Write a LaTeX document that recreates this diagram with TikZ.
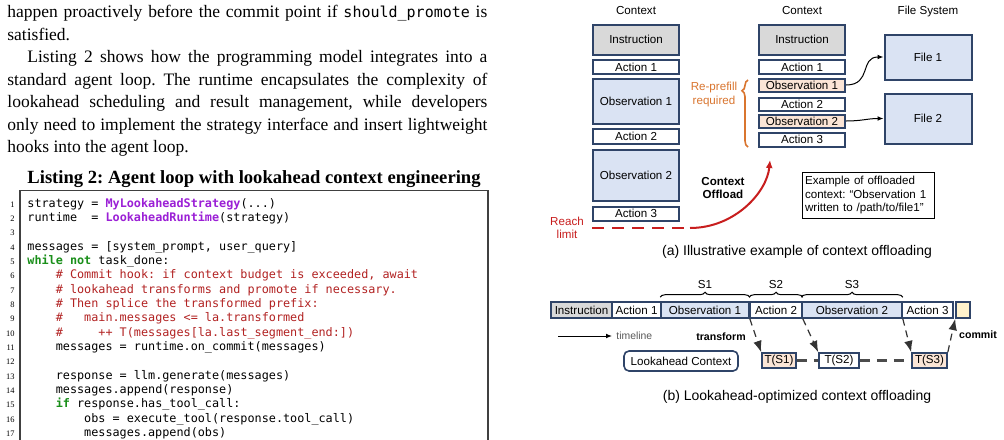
\documentclass[tikz,border=0pt]{standalone}
\usepackage{fontspec}
\setmainfont{Liberation Serif}
\setsansfont{Liberation Sans}
\setmonofont{DejaVu Sans Mono}
\usepackage{xcolor}
\usepackage{tikz}
\usetikzlibrary{arrows.meta,positioning,calc,decorations.pathreplacing}
\frenchspacing

\definecolor{navy}{HTML}{2F4468}
\definecolor{grayfill}{HTML}{D9D9D9}
\definecolor{bluefill}{HTML}{DAE3F3}
\definecolor{orangefill}{HTML}{FBE5D6}
\definecolor{yellowfill}{HTML}{FFF2CC}
\definecolor{orangec}{HTML}{D9752F}
\definecolor{redc}{HTML}{C81E1E}
\definecolor{kwpurple}{HTML}{9B1FD6}
\definecolor{kwgreen}{HTML}{1A8F1A}
\definecolor{cmtred}{HTML}{B22222}

\begin{document}
\begin{tikzpicture}[x=0.5pt,y=-0.5pt,>=Latex,
  body/.style={inner sep=0pt,anchor=base west,font=\fontsize{8.75}{11}\selectfont},
  code/.style={inner sep=0pt,anchor=base west,font=\ttfamily\fontsize{5.9}{7}\selectfont},
  lnum/.style={inner sep=0pt,anchor=base east,font=\fontsize{4.2}{5}\selectfont},
  lbl/.style={inner sep=0pt,font=\sffamily\fontsize{5.8}{7}\selectfont},
  bld/.style={inner sep=0pt,font=\sffamily\bfseries\fontsize{5.3}{6.5}\selectfont},
  blk/.style={draw=navy,line width=1pt,inner sep=0pt,minimum width=43pt,
    font=\sffamily\fontsize{5.8}{7}\selectfont},
  bar/.style={blk,line width=0.8pt,minimum width=0pt,minimum height=8pt},
  tbox/.style={blk,line width=0.8pt,minimum width=0pt,minimum height=7.5pt},
  dshar/.style={->,black!80,line width=0.6pt,dash pattern=on 3.5pt off 2.5pt},
  dshline/.style={black!70,line width=1.1pt,dash pattern=on 5pt off 3.5pt}]
  \useasboundingbox[fill=white] (0,0) rectangle (1004,439);

  % body text
  \node[body] (p1) at (7,17.5) {\makebox[240pt][s]{happen proactively before the commit point if {\ttfamily\fontsize{7.5}{9}\selectfont should\_promote} is}};
  \node[body] (p2) at (7,40) {satisfied.};
  \node[body] (p3) at (27,62.5) {\makebox[230pt][s]{Listing 2 shows how the programming model integrates into a}};
  \node[body] (p4) at (7,85) {\makebox[240pt][s]{standard agent loop. The runtime encapsulates the complexity of}};
  \node[body] (p5) at (7,107.5) {\makebox[240pt][s]{lookahead scheduling and result management, while developers}};
  \node[body] (p6) at (7,130) {\makebox[240pt][s]{only need to implement the strategy interface and insert lightweight}};
  \node[body] (p7) at (7,152) {hooks into the agent loop.};

  % listing
  \node[body,anchor=base,font=\bfseries\fontsize{9.3}{11}\selectfont] (lcap) at (254,183) {Listing 2: Agent loop with lookahead context engineering};
  \draw[black!75,line width=0.6pt] (20,445) -- (20,190.5) -- (488,190.5) -- (488,445);
  \foreach \n in {1,...,17}
    \node[lnum] (n\n) at (15,{207+(\n-1)*14.35}) {\n};
  \node[code] (c1) at (27,207) {strategy = {\bfseries\color{kwpurple}MyLookaheadStrategy}(...)};
  \node[code] (c2) at (27,221.35) {runtime\ \ = {\bfseries\color{kwpurple}LookaheadRuntime}(strategy)};
  \node[code] (c4) at (27,250.05) {messages = [system\_prompt, user\_query]};
  \node[code] (c5) at (27,264.4) {{\bfseries\color{kwgreen}while not} task\_done:};
  \node[code,text=cmtred] (c6) at (55.4,278.75) {\# Commit hook: if context budget is exceeded, await};
  \node[code,text=cmtred] (c7) at (55.4,293.1) {\# lookahead transforms and promote if necessary.};
  \node[code,text=cmtred] (c8) at (55.4,307.45) {\# Then splice the transformed prefix:};
  \node[code,text=cmtred] (c9) at (55.4,321.8) {\#\ \ \ main.messages <= la.transformed};
  \node[code,text=cmtred] (c10) at (55.4,336.15) {\#\ \ \ \ \ ++ T(messages[la.last\_segment\_end:])};
  \node[code] (c11) at (55.4,350.5) {messages = runtime.on\_commit(messages)};
  \node[code] (c13) at (55.4,379.2) {response = llm.generate(messages)};
  \node[code] (c14) at (55.4,393.55) {messages.append(response)};
  \node[code] (c15) at (55.4,407.9) {{\bfseries\color{kwgreen}if} response.has\_tool\_call:};
  \node[code] (c16) at (83.8,422.25) {obs = execute\_tool(response.tool\_call)};
  \node[code] (c17) at (83.8,436.6) {messages.append(obs)};

  % (a) context offloading
  \node[lbl] (hctx1) at (636,11) {Context};
  \node[lbl] (hctx2) at (802,11) {Context};
  \node[lbl] (hfs) at (928,11) {File System};

  \node[blk,fill=grayfill,minimum height=15pt] (li) at (636,39.5) {Instruction};
  \node[blk,minimum height=7pt] (la1) at (636,67) {Action 1};
  \node[blk,fill=bluefill,minimum height=22.5pt] (lo1) at (636,101) {Observation 1};
  \node[blk,minimum height=7.5pt] (la2) at (636,136.5) {Action 2};
  \node[blk,fill=bluefill,minimum height=25.5pt] (lo2) at (636,175) {Observation 2};
  \node[blk,minimum height=7pt] (la3) at (636,213.5) {Action 3};

  \node[blk,fill=grayfill,minimum height=15pt] (mi) at (802,39.5) {Instruction};
  \node[blk,minimum height=7pt] (ma1) at (802,67) {Action 1};
  \node[blk,fill=orangefill,minimum height=6.5pt] (mo1) at (802,85) {Observation 1};
  \node[blk,minimum height=6.5pt] (ma2) at (802,104) {Action 2};
  \node[blk,fill=orangefill,minimum height=6.5pt] (mo2) at (802,121) {Observation 2};
  \node[blk,minimum height=7pt] (ma3) at (802,139.5) {Action 3};

  \node[blk,fill=bluefill,minimum width=43.5pt,minimum height=22.5pt] (f1) at (928,57) {File 1};
  \node[blk,fill=bluefill,minimum width=43.5pt,minimum height=25pt] (f2) at (928,118.5) {File 2};

  \draw[-{Latex[length=3pt,width=2.4pt]},line width=0.5pt] (mo1.east) .. controls +(26,0) and +(-24,0) .. (f1.west);
  \draw[-{Latex[length=3pt,width=2.4pt]},line width=0.5pt] (mo2.east) .. controls +(16,0) and +(-16,0) .. (f2.west);

  \draw[orangec,line width=0.8pt,decorate,decoration={brace,amplitude=3pt,aspect=0.84}] (748,147) -- (748,80);
  \node[lbl,text=orangec,align=center] (rp) at (714,94) {Re-prefill\\required};

  \coordinate (rl) at (592,228);
  \coordinate (rb) at (690,228);
  \coordinate (ro) at (770,160);
  \draw[redc,line width=1pt,dash pattern=on 6pt off 4pt] (rl) -- (rb);
  \draw[redc,line width=1pt,-{Latex[length=4pt,width=3.5pt]}] (rb) .. controls +(45,0) and +(-3,32) .. (ro);
  \node[lbl,text=redc,align=center,font=\sffamily\fontsize{5.8}{6.5}\selectfont] (reach) at (567,228) {Reach\\limit};
  \node[lbl,align=center,font=\sffamily\bfseries\fontsize{5.8}{6.5}\selectfont] (co) at (723,188.5) {Context\\Offload};

  \node[draw,line width=0.5pt,text width=63pt,inner xsep=1.5pt,inner ysep=0pt,minimum height=23pt,align=left,
    font=\sffamily\fontsize{5.8}{6.85}\selectfont] (ex) at (868,195) {Example of offloaded\\context: “Observation 1\\written to /path/to/file1”};

  \node[lbl,font=\sffamily\fontsize{7}{8}\selectfont] (capa) at (797,252) {(a) Illustrative example of context offloading};

  % (b) lookahead
  \node[bar,fill=grayfill,minimum width=30.5pt] (bi) at (581.5,310) {Instruction};
  \node[bar,minimum width=24.5pt] (ba1) at (636.5,310) {Action 1};
  \node[bar,fill=bluefill,minimum width=44pt] (bo1) at (705,310) {Observation 1};
  \node[bar,minimum width=26pt] (ba2) at (776,310) {Action 2};
  \node[bar,fill=bluefill,minimum width=50pt] (bo2) at (852,310) {Observation 2};
  \node[bar,minimum width=25.5pt] (ba3) at (927.5,310) {Action 3};
  \node[bar,fill=yellowfill,minimum width=7pt] (bc) at (963,310) {};

  \draw[decorate,decoration={brace,amplitude=2.5pt},line width=0.5pt] ($(bo1.north west)+(0,-4)$) -- ($(bo1.north east)+(0,-4)$);
  \draw[decorate,decoration={brace,amplitude=2.5pt},line width=0.5pt] ($(ba2.north west)+(0,-4)$) -- ($(ba2.north east)+(0,-4)$);
  \draw[decorate,decoration={brace,amplitude=2.5pt},line width=0.5pt] ($(bo2.north west)+(0,-4)$) -- ($(bo2.north east)+(0,-4)$);
  \node[lbl] (s1) at ($(bo1.north)+(0,-17)$) {S1};
  \node[lbl] (s2) at ($(ba2.north)+(0,-17)$) {S2};
  \node[lbl] (s3) at ($(bo2.north)+(0,-17)$) {S3};

  \coordinate (tl0) at (558,336);
  \coordinate (tl1) at (612,336);
  \draw[-{Latex[length=3pt,width=2.4pt]},line width=0.5pt] (tl0) -- (tl1);
  \node[lbl,text=black!65,anchor=west,font=\sffamily\fontsize{5.2}{6}\selectfont,right=2pt of tl1] (tlabel) {timeline};
  \node[bld] (tr) at (721,337) {transform};
  \node[bld] (cm) at (978,335) {commit};

  \node[draw=navy,line width=0.8pt,rounded corners=2.5pt,minimum width=57pt,minimum height=10pt,inner sep=0pt,
    font=\sffamily\fontsize{5.8}{7}\selectfont] (lac) at (681,361) {Lookahead Context};

  \node[tbox,fill=orangefill,minimum width=17pt] (t1) at (779,360.5) {T(S1)};
  \node[tbox,minimum width=20pt] (t2) at (839,360.5) {T(S2)};
  \node[tbox,fill=orangefill,minimum width=17.5pt] (t3) at (929.5,360.5) {T(S3)};

  \draw[dshar] (bo1.south east) -- (t1.north west);
  \draw[dshar] (ba2.south east) -- (t2.north west);
  \draw[dshar] (bo2.south east) -- (t3.north west);
  \draw[dshar] (t3.north east) -- (bc.south west);
  \draw[dshline] (t1) -- (t2);
  \draw[dshline] (t2) -- (t3);

  \node[lbl,font=\sffamily\fontsize{7}{8}\selectfont] (capb) at (797,397) {(b) Lookahead-optimized context offloading};
\end{tikzpicture}
\end{document}
